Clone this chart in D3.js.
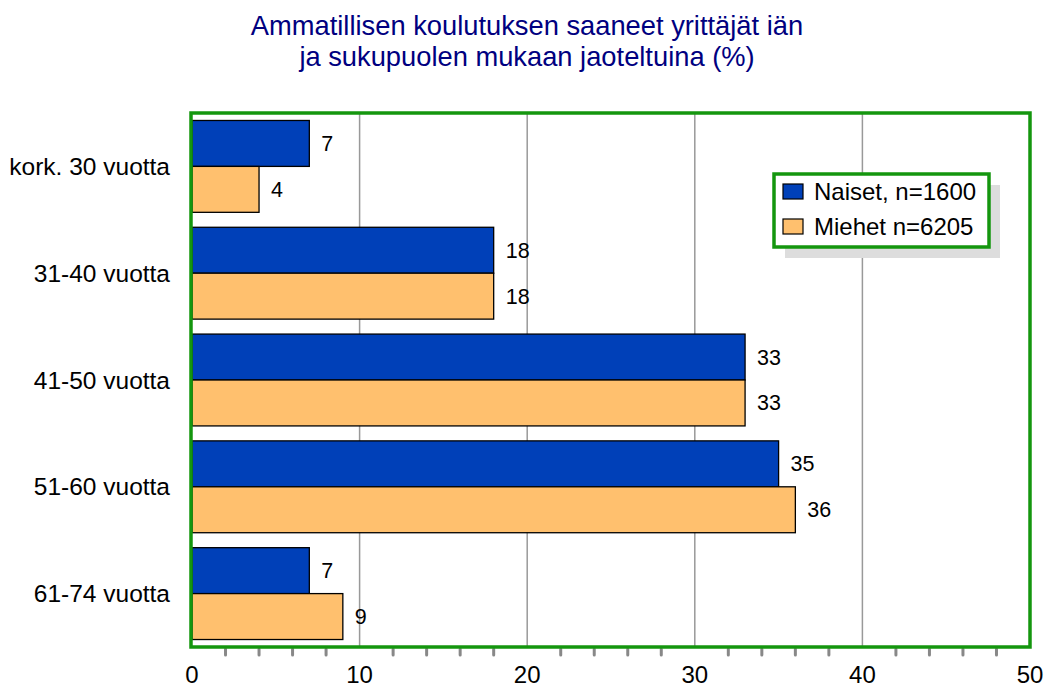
<!DOCTYPE html>
<meta charset="utf-8">
<html>
<head>
<style>
  body { margin: 0; background: #fff; }
  text { font-family: "Liberation Sans", Arial, sans-serif; }
</style>
<script src="https://cdn.jsdelivr.net/npm/d3@7"></script>
</head>
<body>
<div id="chart"></div>
<script>
// data
var categories = ["kork. 30 vuotta", "31-40 vuotta", "41-50 vuotta", "51-60 vuotta", "61-74 vuotta"];
var naiset = [7, 18, 33, 35, 7];
var miehet = [4, 18, 33, 36, 9];
var seriesNames = ["Naiset, n=1600", "Miehet n=6205"];
var xTicks = [0, 10, 20, 30, 40, 50];
var titleLines = ["Ammatillisen koulutuksen saaneet yrittäjät iän", "ja sukupuolen mukaan jaoteltuina (%)"];

var colors = ["#0040B8", "#FFC06E"];

var W = 1049, H = 688;
var margin = { top: 113, right: 19, bottom: 41, left: 192 };
var width = W - margin.left - margin.right,
    height = H - margin.top - margin.bottom;

var svg = d3.select("#chart").append("svg")
    .attr("width", W).attr("height", H);

// title
svg.selectAll(".title")
    .data(titleLines)
    .enter().append("text")
    .attr("x", 527)
    .attr("y", function(d, i) { return 35 + i * 31; })
    .attr("text-anchor", "middle")
    .style("font-size", "27.3px")
    .style("fill", "#000080")
    .text(function(d) { return d; });

var g = svg.append("g")
    .attr("transform", "translate(" + margin.left + "," + margin.top + ")");

var x = d3.scaleLinear().domain([0, 50]).range([0, width]);
var y = d3.scaleBand().domain(categories).range([0, height]).paddingInner(0.14).paddingOuter(0.07);
var ySub = d3.scaleBand().domain([0, 1]).range([0, y.bandwidth()]);

// gridlines
g.selectAll(".grid")
    .data(xTicks.slice(1, -1))
    .enter().append("line")
    .attr("x1", function(d) { return x(d); })
    .attr("x2", function(d) { return x(d); })
    .attr("y1", 0).attr("y2", height)
    .style("stroke", "#999").style("stroke-width", 1.5);

// minor ticks below the axis
var minor = d3.range(0, 51, 2).filter(function(d) { return d % 10 != 0; });
g.selectAll(".minor")
    .data(minor)
    .enter().append("line")
    .attr("x1", function(d) { return x(d); })
    .attr("x2", function(d) { return x(d); })
    .attr("y1", height + 2).attr("y2", height + 8)
    .style("stroke", "#888").style("stroke-width", 3).style("stroke-linecap", "round");

// bars
var data = categories.map(function(c, i) { return { cat: c, vals: [naiset[i], miehet[i]] }; });
var groups = g.selectAll(".grp")
    .data(data)
    .enter().append("g")
    .attr("transform", function(d) { return "translate(0," + y(d.cat) + ")"; });

groups.selectAll("rect")
    .data(function(d) { return d.vals; })
    .enter().append("rect")
    .attr("x", 0)
    .attr("y", function(d, i) { return ySub(i); })
    .attr("width", function(d) { return x(d); })
    .attr("height", ySub.bandwidth())
    .style("fill", function(d, i) { return colors[i]; })
    .style("stroke", "#000").style("stroke-width", 1.3);

groups.selectAll(".val")
    .data(function(d) { return d.vals; })
    .enter().append("text")
    .attr("x", function(d) { return x(d) + 12; })
    .attr("y", function(d, i) { return ySub(i) + ySub.bandwidth() / 2; })
    .attr("dy", "0.35em")
    .style("font-size", "21.5px")
    .text(function(d) { return d; });

// category labels
g.selectAll(".cat")
    .data(categories)
    .enter().append("text")
    .attr("x", -22)
    .attr("y", function(d) { return y(d) + y.bandwidth() / 2; })
    .attr("dy", "0.35em")
    .attr("text-anchor", "end")
    .style("font-size", "24.5px")
    .text(function(d) { return d; });

// plot frame
g.append("rect")
    .attr("x", -1).attr("y", 0)
    .attr("width", width + 1).attr("height", height)
    .style("fill", "none")
    .style("stroke", "#14960E").style("stroke-width", 3.5);

// x tick labels
g.selectAll(".xt")
    .data(xTicks)
    .enter().append("text")
    .attr("x", function(d) { return x(d); })
    .attr("y", height + 36)
    .attr("text-anchor", "middle")
    .style("font-size", "24px")
    .text(function(d) { return d; });

// legend
var lg = svg.append("g").attr("transform", "translate(774,174)");
lg.append("rect")
    .attr("x", 11).attr("y", 11).attr("width", 215).attr("height", 73)
    .style("fill", "#ddd");
lg.append("rect")
    .attr("x", 0).attr("y", 0).attr("width", 215).attr("height", 73)
    .style("fill", "#fff")
    .style("stroke", "#14960E").style("stroke-width", 3.5);
var items = lg.selectAll(".li")
    .data(seriesNames)
    .enter().append("g")
    .attr("transform", function(d, i) { return "translate(0," + (i * 35) + ")"; });
items.append("rect")
    .attr("x", 9).attr("y", 10).attr("width", 20).attr("height", 15)
    .style("fill", function(d, i) { return colors[i]; })
    .style("stroke", "#000").style("stroke-width", 1.2);
items.append("text")
    .attr("x", 40).attr("y", 18)
    .attr("dy", "0.35em")
    .style("font-size", "24px")
    .text(function(d) { return d; });
</script>
</body>
</html>
